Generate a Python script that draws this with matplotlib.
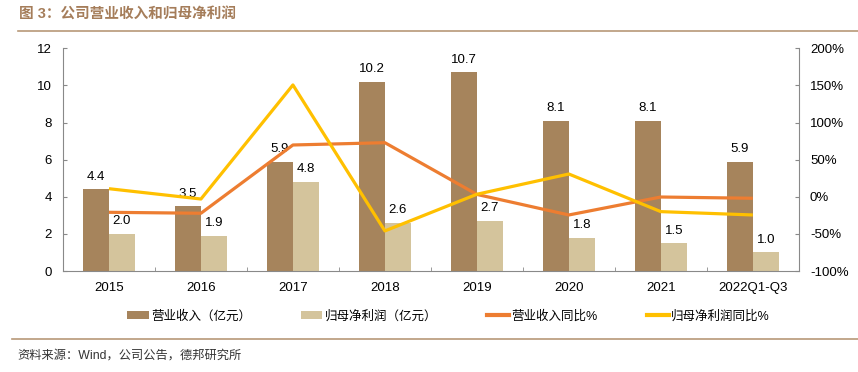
import numpy as np
import matplotlib.pyplot as plt
from matplotlib.lines import Line2D

plt.rcParams['font.family'] = ['Liberation Sans', 'Noto Sans CJK SC', 'DejaVu Sans']

# data
years = ['2015', '2016', '2017', '2018', '2019', '2020', '2021', '2022Q1-Q3']
revenue = [4.4, 3.5, 5.9, 10.2, 10.7, 8.1, 8.1, 5.9]
net_profit = [2.0, 1.9, 4.8, 2.6, 2.7, 1.8, 1.5, 1.0]
revenue_yoy = [-20.9, -22.2, 69.8, 72.9, 3.2, -24.5, -0.3, -2.0]
profit_yoy = [10.9, -3.0, 150.7, -46.0, 3.4, 30.7, -20.0, -24.5]

c_dark = '#A6845C'
c_light = '#D4C49C'
c_orange = '#ED7D31'
c_yellow = '#FFC000'
c_axis = '#898989'

fig = plt.figure(figsize=(8.58, 3.72), dpi=100)
ax = fig.add_axes([0.0734, 0.2715, 0.8576, 0.5985])
ax2 = ax.twinx()

x = np.arange(len(years))
w = 0.283
b1 = ax.bar(x - w / 2, revenue, w, color=c_dark, zorder=2)
b2 = ax.bar(x + w / 2, net_profit, w, color=c_light, zorder=2)
for xi, v in zip(x, revenue):
    ax.text(xi - w / 2, v + 0.35, f'{v:.1f}', ha='center', va='bottom', fontsize=9.5)
for xi, v in zip(x, net_profit):
    ax.text(xi + w / 2, v + 0.35, f'{v:.1f}', ha='center', va='bottom', fontsize=9.5)

ax2.plot(x, revenue_yoy, color=c_orange, lw=2.3, solid_capstyle='butt')
ax2.plot(x, profit_yoy, color=c_yellow, lw=2.3, solid_capstyle='butt')

ax.set_xlim(-0.5, len(years) - 0.5)
ax.set_ylim(0, 12)
ax.set_yticks(range(0, 13, 2))
ax2.set_ylim(-100, 200)
ax2.set_yticks(range(-100, 201, 50))
ax2.set_yticklabels([f'{v}%' for v in range(-100, 201, 50)])

ax.set_xticks(x)
ax.set_xticklabels(years)
ax.set_xticks(np.arange(-0.5, len(years)), minor=True)
ax.tick_params(axis='x', which='major', length=0, pad=8, labelsize=9.5)
ax.tick_params(axis='x', which='minor', length=3, direction='in', color=c_axis)
ax.tick_params(axis='y', length=3, direction='in', color=c_axis, labelsize=9.5, pad=8)
ax2.tick_params(axis='y', length=3, direction='in', color=c_axis, labelsize=9.5, pad=8)

for a in (ax, ax2):
    a.spines['top'].set_visible(False)
    for s in ('left', 'right', 'bottom'):
        a.spines[s].set_color(c_axis)
ax2.spines['bottom'].set_visible(False)
ax2.spines['left'].set_visible(False)
ax.spines['right'].set_visible(False)

handles = [b1, b2,
           Line2D([], [], color=c_orange, lw=3),
           Line2D([], [], color=c_yellow, lw=3)]
labels = ['营业收入（亿元）', '归母净利润（亿元）', '营业收入同比%', '归母净利润同比%']
fig.legend(handles, labels, loc='center', bbox_to_anchor=(0.523, 0.15), ncol=4,
           frameon=False, fontsize=9, handlelength=1.7, handleheight=0.7,
           columnspacing=4.0, handletextpad=0.2)

fig.text(0.022, 0.96, '图 3：公司营业收入和归母净利润', fontsize=10.5, fontweight='bold',
         color='#A57D5A', va='center')
fig.add_artist(Line2D([0.021, 1.0], [0.918, 0.918], color='#B89878', lw=1.2))
fig.add_artist(Line2D([0.014, 1.0], [0.089, 0.089], color='#B89878', lw=1.2))
fig.text(0.02, 0.045, '资料来源：Wind，公司公告，德邦研究所', fontsize=8.8,
         color='#333333', va='center')

fig.savefig('out.png', dpi=100)
